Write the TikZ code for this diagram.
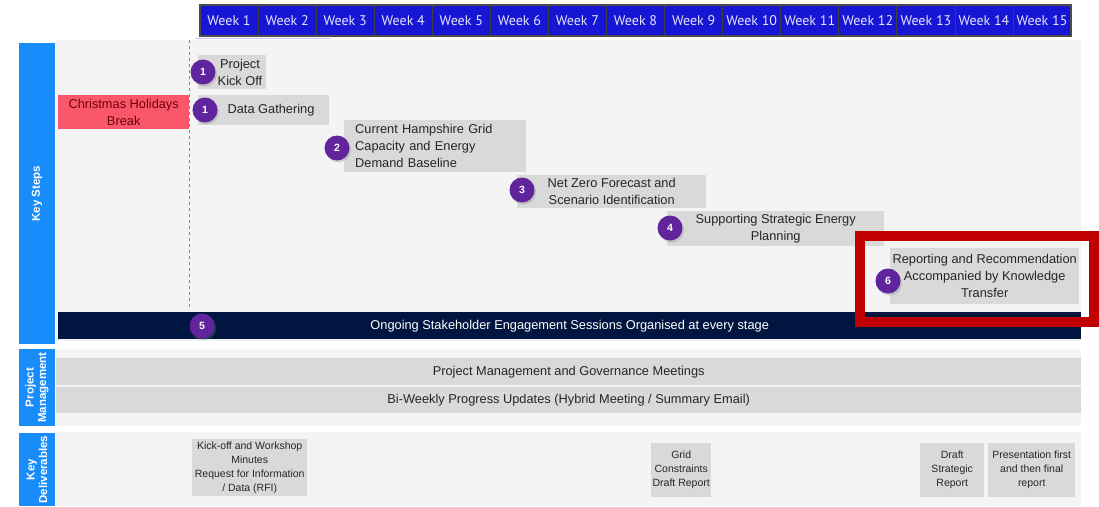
\documentclass[tikz,border=0pt]{standalone}
\usepackage{fontspec}
\setmainfont{Liberation Sans}
\newfontfamily\weekfont{PT Sans}
\usetikzlibrary{shadows}

\definecolor{weekblue}{RGB}{22,22,212}
\definecolor{weektext}{RGB}{228,228,255}
\definecolor{sideblue}{RGB}{24,140,250}
\definecolor{navyband}{RGB}{0,22,64}
\definecolor{barg}{RGB}{217,217,217}
\definecolor{bgg}{RGB}{244,244,244}
\definecolor{numpurple}{RGB}{96,36,156}
\definecolor{xmasred}{RGB}{250,88,106}
\definecolor{xmastext}{RGB}{110,0,12}
\definecolor{boxred}{RGB}{192,0,0}
\definecolor{bartext}{RGB}{38,38,38}

\newcommand\barfont{\fontsize{12.8}{17}\selectfont}
\newcommand\delfont{\fontsize{10.5}{14}\selectfont}

\begin{document}
\begin{tikzpicture}[x=1pt,y=-1pt,
  week/.style={draw=black!75,line width=0.8pt,fill=weekblue,text=weektext,
    minimum width=58.07pt,minimum height=31pt,inner sep=0pt,
    font=\weekfont\fontsize{14}{14}\selectfont},
  side/.style={fill=sideblue,text=white,rotate=90,align=center,inner sep=0pt,
    font=\bfseries\fontsize{11.5}{12.5}\selectfont},
  bar/.style={fill=barg,text=bartext,anchor=north west,inner sep=0pt,
    align=center,font=\barfont},
  bartext/.style={text=bartext,align=center,inner sep=0pt,font=\barfont},
  band/.style={fill=navyband,text=white,anchor=north west,inner sep=0pt,font=\barfont},
  dbox/.style={fill=barg,text=bartext,anchor=north west,inner sep=0pt,
    align=center,font=\delfont},
  num/.style={circle,fill=numpurple,text=white,minimum size=25pt,inner sep=0pt,
    font=\bfseries\fontsize{10.5}{10.5}\selectfont,
    drop shadow={opacity=0.3,shadow xshift=1.5pt,shadow yshift=-2pt}}]

\useasboundingbox (0,0) rectangle (1099,506);
\fill[white] (0,0) rectangle (1099,506);

% sections
\fill[bgg] (56,40) rectangle (1081,341);
\fill[bgg] (56,349) rectangle (1081,426);
\fill[bgg] (56,432) rectangle (1081,506);

\node[side,minimum width=301pt,minimum height=36pt] (keysteps) at (37,193.5) {Key Steps};
\node[side,minimum width=77pt,minimum height=36pt] (projmgmt) at (37,387.5) {Project\\Management};
\node[side,minimum width=73pt,minimum height=36pt] (keydeliv) at (37,469.5) {Key\\Deliverables};

% weeks
\draw[weekblue!25,line width=1pt] (195,38) -- (330,38);
\foreach \i in {1,...,15}
  \node[week] (w\i) at ({200+(\i-0.5)*58.07},20.5) {Week \i};
\draw[black!70,line width=1.2pt] (200,5) rectangle (1071,36);

\draw[xmasred,dashed,line width=1pt] (189,40) -- (189,310);
\node[fill=xmasred,text=xmastext,anchor=north west,inner sep=0pt,align=center,
  font=\barfont,minimum width=131pt,minimum height=34pt] (xmas) at (58,95)
  {Christmas Holidays\\Break};

% key steps
\node[bar,minimum width=68pt,minimum height=34pt] (kickoff) at (198,55) {};
\node[bartext] (kickoff-t) at (240,72) {Project\\Kick Off};
\node[bar,minimum width=131pt,minimum height=30pt] (datagath) at (198,95) {};
\node[bartext] (datagath-t) at (271,110) {Data Gathering};
\node[bar,minimum width=182pt,minimum height=52pt,text width=160pt,align=left] (gridcap) at (344,120)
  {Current Hampshire Grid\\Capacity and Energy\\Demand Baseline};
\node[bar,minimum width=189pt,minimum height=33pt] (netzero) at (517,175)
  {Net Zero Forecast and\\Scenario Identification};
\node[bar,minimum width=217pt,minimum height=35pt] (strategic) at (667,211)
  {Supporting Strategic Energy\\Planning};
\node[bar,minimum width=189pt,minimum height=56pt] (reporting) at (890,248)
  {Reporting and Recommendation\\Accompanied by Knowledge\\Transfer};
\node[band,minimum width=1023pt,minimum height=27pt] (stakeholder) at (58,312)
  {Ongoing Stakeholder Engagement Sessions Organised at every stage};

\node[num] (n1a) at (203,72) {1};
\node[num] (n1b) at (205,110) {1};
\node[num] (n2) at (337,148) {2};
\node[num] (n3) at (522,190) {3};
\node[num] (n4) at (670,228) {4};
\node[num] (n6) at (888,281) {6};
\node[num] (n5) at (202,326) {5};

\draw[boxred,line width=9.5pt] (860,236) rectangle (1094,322);

% project management
\node[bar,minimum width=1025pt,minimum height=27pt] (govmeet) at (56,358)
  {Project Management and Governance Meetings};
\node[bar,minimum width=1025pt,minimum height=26pt] (biweekly) at (56,387)
  {Bi-Weekly Progress Updates (Hybrid Meeting / Summary Email)};

% deliverables
\node[dbox,minimum width=115pt,minimum height=57pt] (rfi) at (192,439)
  {Kick-off and Workshop\\Minutes\\Request for Information\\/ Data (RFI)};
\node[dbox,minimum width=60pt,minimum height=54pt] (gridrep) at (651,443)
  {Grid\\Constraints\\Draft Report};
\node[dbox,minimum width=64pt,minimum height=54pt] (draftstrat) at (920,443)
  {Draft\\Strategic\\Report};
\node[dbox,minimum width=87pt,minimum height=54pt] (finalrep) at (988,443)
  {Presentation first\\and then final\\report};

\end{tikzpicture}
\end{document}
